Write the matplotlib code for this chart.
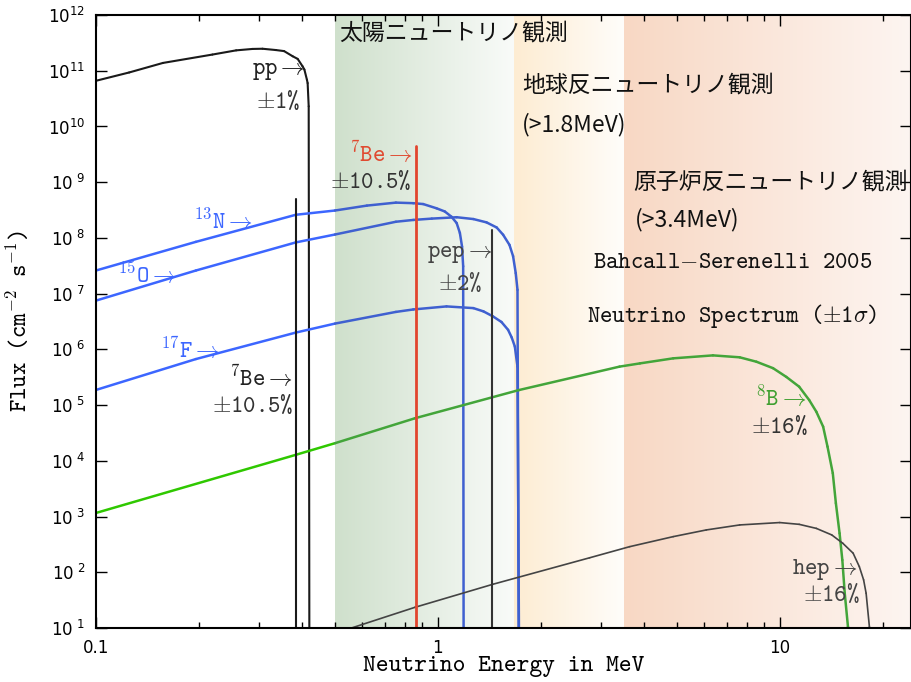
import numpy as np
import matplotlib.pyplot as plt
from matplotlib.collections import LineCollection
from matplotlib.colors import to_rgb

plt.rcParams['font.family'] = ['cmtt10', 'DejaVu Serif']
plt.rcParams['mathtext.fontset'] = 'cm'
plt.rcParams['axes.unicode_minus'] = False

x_range = (0.1, 24.3)
y_range = (1e1, 1e12)

# continuum spectra: energy (MeV) and flux
pp_e = [0.1, 0.125, 0.157, 0.219, 0.257, 0.287, 0.307, 0.336, 0.355, 0.376, 0.389, 0.402,
        0.407, 0.414, 0.416, 0.419, 0.421]
pp_f = [6.6e10, 9.3e10, 1.38e11, 1.95e11, 2.32e11, 2.46e11, 2.48e11, 2.35e11, 2.25e11, 1.82e11,
        1.63e11, 1.2e11, 1.05e11, 6.9e10, 6.0e10, 2.3e10, 1]

n13_e = [0.1, 0.196, 0.384, 0.5, 0.62, 0.754, 0.847, 0.906, 0.991, 1.048, 1.096, 1.135, 1.16,
         1.177, 1.186, 1.19]
n13_f = [2.6e7, 8.5e7, 2.6e8, 3.1e8, 3.8e8, 4.3e8, 4.2e8, 4.05e8, 3.4e8, 2.98e8, 2.4e8, 1.85e8,
         1.23e8, 7.0e7, 3.1e7, 1]

o15_e = [0.1, 0.196, 0.384, 0.5, 0.754, 0.847, 0.96, 1.135, 1.27, 1.388, 1.486, 1.552, 1.62,
         1.66, 1.69, 1.71, 1.726]
o15_f = [7.5e6, 2.6e7, 8.3e7, 1.15e8, 1.95e8, 2.1e8, 2.22e8, 2.35e8, 2.18e8, 1.9e8, 1.54e8,
         1.14e8, 7.5e7, 4.7e7, 2.33e7, 1.17e7, 1]

f17_e = [0.1, 0.196, 0.384, 0.5, 0.754, 0.847, 1.06, 1.27, 1.36, 1.45, 1.535, 1.605, 1.645,
         1.68, 1.71, 1.73]
f17_f = [1.87e5, 6.7e5, 2.0e6, 2.9e6, 4.7e6, 5.2e6, 5.9e6, 5.5e6, 4.8e6, 3.9e6, 3.1e6, 2.24e6,
         1.63e6, 1.12e6, 4.9e5, 1]

b8_e = [0.1, 0.384, 0.5, 0.857, 1.726, 3.40, 3.90, 4.88, 6.38, 7.64, 8.55, 9.56, 10.46, 11.4,
        12.2, 12.8, 13.4, 13.8, 14.3, 14.6, 14.97, 15.25, 15.5, 15.84, 16.0]
b8_f = [1.16e3, 1.28e4, 2.07e4, 5.8e4, 1.86e5, 4.9e5, 5.6e5, 6.9e5, 7.8e5, 7.2e5, 6.0e5, 4.6e5,
        3.2e5, 2.14e5, 1.23e5, 7.6e4, 4.1e4, 1.8e4, 6.0e3, 1.74e3, 500, 166, 42, 10.5, 1]

hep_e = [0.559, 0.857, 1.45, 2.78, 3.64, 4.88, 6.1, 7.64, 10.0, 11.4, 12.8, 14.2, 15.3, 16.4,
         17.1, 17.6, 17.9, 18.3, 18.7]
hep_f = [10, 23.5, 61, 182, 288, 436, 575, 707, 780, 725, 613, 468, 331, 220, 126, 73, 42,
         10.5, 1]

# line spectra: energy (MeV), flux
be7_low = (0.384, 5.0e8)
be7_high = (0.862, 4.4e9)
pep_line = (1.442, 1.4e8)

# shaded detection bands (MeV) with colour at low / high end
band_lims = [(0.5, 1.67), (1.67, 3.5), (3.5, 24.3)]
band_cols = [('#cfe0cc', '#f9fbf9'), ('#fdecd2', '#fffdfa'), ('#f8d8c4', '#fdf5f1')]

x_ticks = [0.1, 1, 10]
x_tick_labels = ['0.1', '1', '10']
y_ticks = [10.0 ** k for k in range(1, 13)]
y_tick_labels = [r'$10^{\ %d}$' % k if k < 10 else r'$10^{%d}$' % k for k in range(1, 13)]


def in_band(e):
    return any(lo <= e <= hi for lo, hi in band_lims)


def frac(e):
    return np.log10(e / x_range[0]) / np.log10(x_range[1] / x_range[0])


fig = plt.figure(figsize=(9.12, 6.82), dpi=100)
pos = [96 / 912, 54 / 682, 815.5 / 912, 613 / 682]

# background bands on a plain linear axes behind the plot
ax_bg = fig.add_axes(pos, zorder=0)
for (lo, hi), (c0, c1) in zip(band_lims, band_cols):
    t = np.linspace(0, 1, 256)[None, :, None]
    grad = (1 - t) * np.array(to_rgb(c0)) + t * np.array(to_rgb(c1))
    ax_bg.imshow(grad, extent=(frac(lo), frac(hi), 0, 1), aspect='auto', interpolation='bilinear')
ax_bg.set_xlim(0, 1)
ax_bg.set_ylim(0, 1)
ax_bg.axis('off')

ax = fig.add_axes(pos, zorder=1)
ax.set_facecolor('none')


def draw_curve(e, f, colour, lw, colour_band=None):
    # colour_band: darker shade used where the curve crosses a shaded band
    pts = np.column_stack([e, f])
    segs = np.stack([pts[:-1], pts[1:]], axis=1)
    cb = colour_band or colour
    cols = [cb if in_band(np.sqrt(a[0] * b[0])) else colour for a, b in segs]
    ax.add_collection(LineCollection(segs, colors=cols, linewidths=lw,
                                     capstyle='round', joinstyle='round', zorder=2))


blue, blue_dk = '#3c66ff', '#3f60d0'
draw_curve(pp_e, pp_f, '#1a1a1a', 1.5)
draw_curve(n13_e, n13_f, blue, 1.8, blue_dk)
draw_curve(o15_e, o15_f, blue, 1.8, blue_dk)
draw_curve(f17_e, f17_f, blue, 1.8, blue_dk)
draw_curve(b8_e, b8_f, '#2fc800', 1.8, '#43a53a')
draw_curve(hep_e, hep_f, '#444444', 1.2)
draw_curve([be7_low[0]] * 2, [1, be7_low[1]], '#1a1a1a', 1.5)
draw_curve([be7_high[0]] * 2, [1, be7_high[1]], '#e2452e', 2.0)
draw_curve([pep_line[0]] * 2, [1, pep_line[1]], '#333333', 1.5)

ax.set_xscale('log')
ax.set_yscale('log')
ax.set_xlim(*x_range)
ax.set_ylim(*y_range)
ax.set_xticks(x_ticks)
ax.set_xticklabels(x_tick_labels)
ax.set_yticks(y_ticks)
ax.set_yticklabels(y_tick_labels)
ax.tick_params(which='both', direction='in', top=True, right=True, width=1)
ax.tick_params(which='major', length=8, labelsize=12, pad=8)
ax.tick_params(which='minor', length=4)
for lbl in ax.get_xticklabels() + ax.get_yticklabels():
    lbl.set_fontfamily('DejaVu Sans')
    lbl.set_math_fontfamily('dejavusans')
for sp in ax.spines.values():
    sp.set_linewidth(1.5)

ax.set_xlabel('Neutrino Energy in MeV', fontsize=17.5)
ax.set_ylabel(r'Flux (cm$^{-2}$ s$^{-1}$)', fontsize=17)
ax.xaxis.set_label_coords(0.5, -0.045)
ax.yaxis.set_label_coords(-0.077, 0.5)

# spectrum labels
lab = dict(fontsize=17, ha='right', va='center', zorder=3)
ax.text(0.409, 9.8e10, r'pp$\rightarrow$', color='#222222', **lab)
ax.text(0.395, 2.7e10, r'$\pm$1%', color='#333333', **lab)
ax.text(0.847, 3.1e9, r'$^{7}$Be$\rightarrow$', color='#e04a30', **lab)
ax.text(0.835, 1.02e9, r'$\pm$10.5%', color='#333333', **lab)
ax.text(0.287, 1.95e8, r'$^{13}$N$\rightarrow$', color=blue, **lab)
ax.text(0.1725, 2.09e7, r'$^{15}$O$\rightarrow$', color=blue, **lab)
ax.text(0.2305, 9.5e5, r'$^{17}$F$\rightarrow$', color=blue, **lab)
ax.text(0.376, 2.96e5, r'$^{7}$Be$\rightarrow$', color='#222222', **lab)
ax.text(0.378, 9.7e4, r'$\pm$10.5%', color='#333333', **lab)
ax.text(1.444, 5.0e7, r'pep$\rightarrow$', color='#444444', **lab)
ax.text(1.35, 1.48e7, r'$\pm$2%', color='#444444', **lab)
ax.text(11.97, 1.32e5, r'$^{8}$B$\rightarrow$', color='#3f9f30', **lab)
ax.text(12.1, 4.1e4, r'$\pm$16%', color='#333333', **lab)
ax.text(16.9, 110, r'hep$\rightarrow$', color='#444444', **lab)
ax.text(17.2, 39, r'$\pm$16%', color='#444444', **lab)

# detection band captions
jp = dict(fontsize=16.5, ha='left', va='center', color='#111111', zorder=3,
          family=['Noto Sans CJK JP', 'DejaVu Sans'])
ax.text(0.514, 4.8e11, '太陽ニュートリノ観測', **jp)
ax.text(1.76, 5.6e10, '地球反ニュートリノ観測', **jp)
ax.text(1.76, 1.07e10, '(>1.8MeV)', **jp)
ax.text(3.72, 1.02e9, '原子炉反ニュートリノ観測', **jp)
ax.text(3.78, 2.1e8, '(>3.4MeV)', **jp)

ax.text(2.84, 3.5e7, r'Bahcall$-$Serenelli 2005', fontsize=17, ha='left', va='center',
        color='#111111')
ax.text(2.73, 3.9e6, r'Neutrino Spectrum ($\pm$1$\sigma$)', fontsize=17, ha='left', va='center',
        color='#111111')

fig.savefig('out.png', dpi=100)
